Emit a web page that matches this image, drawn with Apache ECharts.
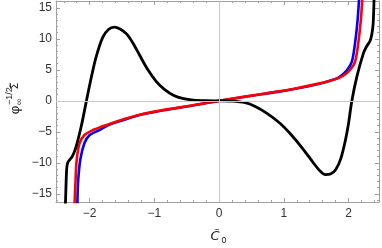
<!DOCTYPE html>
<html><head><meta charset="utf-8">
<script src="https://cdn.jsdelivr.net/npm/echarts@6/dist/echarts.min.js"></script>
<style>html,body{margin:0;padding:0;background:#fff}#c{width:382px;height:248px}</style>
</head><body><div id="c"></div>
<script>
const blackCurve = [[-2.375,-17],[-2.365,-13.5],[-2.355,-11],[-2.34,-10],[-2.31,-9.5],[-2.27,-9.0],[-2.21,-7.4],[-2.13,-4.1],[-2.05,0],[-1.97,4.0],[-1.9,7.1],[-1.8,10.2],[-1.71,11.5],[-1.62,11.9],[-1.53,11.6],[-1.43,10.8],[-1.33,9.3],[-1.23,7.4],[-1.1,5.0],[-0.97,3.1],[-0.85,1.9],[-0.7,0.85],[-0.55,0.35],[-0.4,0.12],[-0.2,0.02],[0,0],[0.2,-0.05],[0.4,-0.3],[0.55,-0.85],[0.74,-2.0],[0.94,-3.6],[1.1,-5.3],[1.3,-7.8],[1.45,-9.9],[1.55,-11.2],[1.64,-11.9],[1.72,-11.8],[1.8,-11.1],[1.88,-9.3],[1.95,-6.4],[2.0,-3.6],[2.05,0],[2.13,4.0],[2.23,7.7],[2.28,8.8],[2.33,9.6],[2.36,10.8],[2.38,12.5],[2.395,17]];
const redCurve = [[-2.235,-17],[-2.22,-13.3],[-2.2,-9.5],[-2.155,-6.8],[-2.08,-5.5],[-1.95,-4.7],[-1.8,-4.1],[-1.65,-3.55],[-1.5,-3.05],[-1.2,-2.15],[-0.9,-1.55],[-0.6,-1.05],[-0.3,-0.52],[0,0],[0.3,0.52],[0.6,1.0],[0.9,1.5],[1.2,2.05],[1.5,2.7],[1.7,3.2],[1.85,3.7],[1.95,4.3],[2.03,5.1],[2.1,6.3],[2.15,9.3],[2.19,13.1],[2.215,17]];
const blueCurve = [[-2.19,-17],[-2.18,-13.3],[-2.145,-9.5],[-2.08,-6.8],[-2.0,-5.5],[-1.85,-4.7],[-1.7,-3.85],[-1.5,-3.15],[-1.2,-2.2],[-0.9,-1.6],[-0.6,-1.08],[-0.3,-0.54],[0,0],[0.3,0.5],[0.6,0.98],[0.9,1.45],[1.2,2.0],[1.5,2.65],[1.7,3.2],[1.85,3.8],[1.97,4.9],[2.05,6.3],[2.1,9.3],[2.14,13.1],[2.165,17]];
const xMajorTicks = [-2,-1,0,1,2];
const yMajorTicks = [-15,-10,-5,0,5,10,15];
const xMinorTicks = [];
for (let i = -12; i <= 12; i++) if (i % 5 !== 0) xMinorTicks.push(i / 5);
const yMinorTicks = [];
for (let i = -16; i <= 16; i++) if (i % 5 !== 0) yMinorTicks.push(i);
const X_MIN = -2.52, X_MAX = 2.47, Y_MIN = -16.3, Y_MAX = 16.1;

const frameColor = '#a0a0a0';
const fmt = v => (v < 0 ? '\u2212' + Math.abs(v) : String(v));
function xAx(pos, ticks, len, labels, line) {
  return { type:'value', position:pos, min:X_MIN, max:X_MAX,
    axisLine:{show:line, onZero:false, lineStyle:{color:frameColor, width:1}},
    axisTick:{show:true, inside:true, length:len, customValues:ticks, lineStyle:{color:frameColor}},
    axisLabel:{show:labels, customValues:ticks, formatter:fmt, margin:6, color:'#333', fontFamily:'Liberation Sans', fontSize:12},
    splitLine:{show:false} };
}
function yAx(pos, ticks, len, labels, line) {
  return { type:'value', position:pos, min:Y_MIN, max:Y_MAX,
    axisLine:{show:line, onZero:false, lineStyle:{color:frameColor, width:1}},
    axisTick:{show:true, inside:true, length:len, customValues:ticks, lineStyle:{color:frameColor}},
    axisLabel:{show:labels, customValues:ticks, formatter:fmt, margin:4, color:'#333', fontFamily:'Liberation Sans', fontSize:12},
    splitLine:{show:false} };
}
const chart = echarts.init(document.getElementById('c'), null, {renderer:'canvas'});
const lineS = (data, color, w, z) => ({ type:'line', data, showSymbol:false, smooth:0.3,
  lineStyle:{color, width:w, join:'round', cap:'round'}, z, clip:true, xAxisIndex:0, yAxisIndex:0 });
chart.setOption({
  animation:false,
  grid:{left:56, right:3, top:1, bottom:46, containLabel:false},
  xAxis:[ xAx('bottom', xMajorTicks, 4, true, true), xAx('bottom', xMinorTicks, 2, false, false),
          xAx('top', xMajorTicks, 4, false, true), xAx('top', xMinorTicks, 2, false, false) ],
  yAxis:[ yAx('left', yMajorTicks, 4, true, true), yAx('left', yMinorTicks, 2, false, false),
          yAx('right', yMajorTicks, 4, false, true), yAx('right', yMinorTicks, 2, false, false) ],
  series:[
    { type:'line', data:[[0,0]], showSymbol:false, lineStyle:{opacity:0}, z:1,
      markLine:{silent:true, symbol:'none', label:{show:false}, animation:false,
        lineStyle:{color:'#c8c8c8', width:1, type:'solid'}, data:[{xAxis:0},{yAxis:0}]} },
    lineS(blueCurve, '#0000ff', 2.6, 2),
    lineS(redCurve, '#ff0000', 2.6, 3),
    lineS(blackCurve, '#000000', 2.8, 4)
  ],
  graphic:[
    { type:'group', x:15, y:98, rotation:Math.PI/2, children:[
      { type:'text', x:-12, y:0, style:{text:'φ', font:'13px "Liberation Sans"', fill:'#222', textAlign:'center', textVerticalAlign:'middle'} },
      { type:'text', x:-7, y:-5, style:{text:'\u22121/2', font:'9px "Liberation Sans"', fill:'#222', textAlign:'left', textVerticalAlign:'middle'} },
      { type:'text', x:-7, y:5, style:{text:'∞', font:'9px "Liberation Sans"', fill:'#222', textAlign:'left', textVerticalAlign:'middle'} },
      { type:'text', x:12, y:0, style:{text:'Σ\u0303', font:'11px "DejaVu Sans"', fill:'#222', textAlign:'center', textVerticalAlign:'middle'} }
    ]},
    { type:'text', x:215, y:237, style:{text:'C\u0303', font:'italic 13px "DejaVu Sans"', fill:'#222', textAlign:'center', textVerticalAlign:'middle'} },
    { type:'text', x:224, y:241, style:{text:'0', font:'9px "Liberation Sans"', fill:'#222', textAlign:'center', textVerticalAlign:'middle'} }
  ]
});
</script></body></html>
